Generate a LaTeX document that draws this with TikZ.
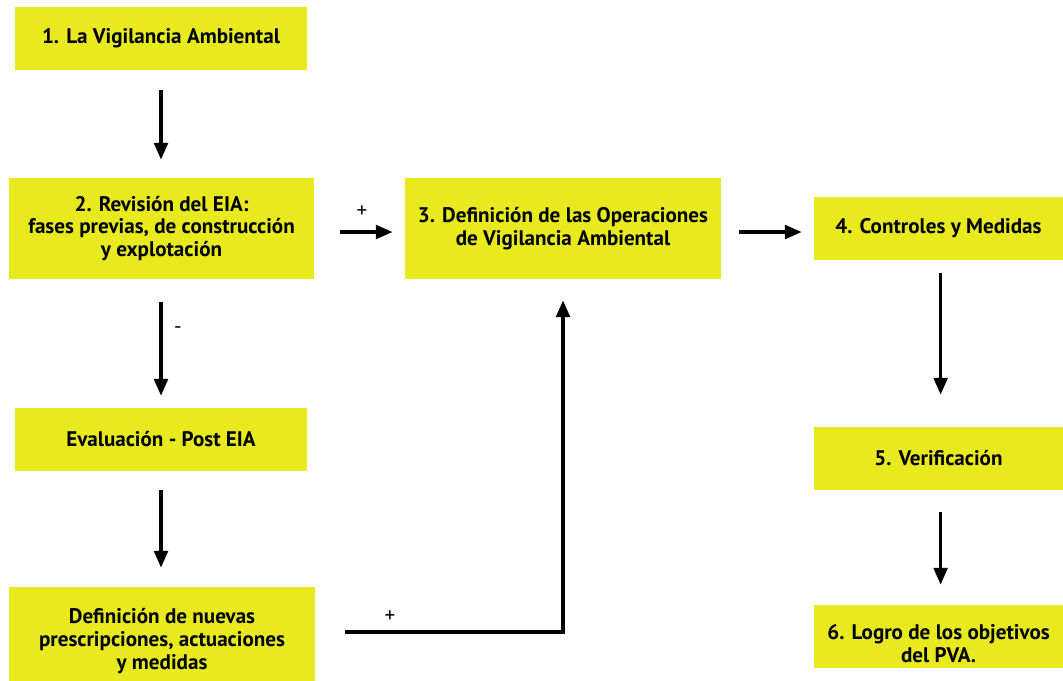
\documentclass[tikz,border=0pt]{standalone}
\usepackage{fontspec}
\setmainfont{PT Sans}
\usepackage{xcolor}
\usetikzlibrary{arrows.meta}
\definecolor{amarillo}{RGB}{232,234,30}

\begin{document}
\begin{tikzpicture}
[x=0.025cm,y=-0.025cm,
caja/.style={rectangle,fill=amarillo,inner sep=0pt,align=center,font=\bfseries\fontsize{15}{16.2}\selectfont},
flecha/.style={draw=black,line width=2.4pt,-{Triangle[length=0.42cm,width=0.34cm]}},
signo/.style={font=\fontsize{15}{16}\selectfont}]

\useasboundingbox (0,0) rectangle (1063,680);

\node at (161,38.5)  [caja,minimum width=7.3cm,minimum height=1.575cm] (vig)  {1. La Vigilancia Ambiental};
\node at (161.5,228.5) [caja,minimum width=7.625cm,minimum height=2.525cm] (rev) {2. Revisión del EIA:\\fases previas, de construcción\\y explotación};
\node at (563,228.5) [caja,minimum width=7.9cm,minimum height=2.525cm] (ops)  {3. Definición de las Operaciones\\de Vigilancia Ambiental};
\node at (938.5,228.5) [caja,minimum width=6.225cm,minimum height=1.575cm] (ctrl) {4. Controles y Medidas};
\node at (938.5,458.5) [caja,minimum width=6.225cm,minimum height=1.575cm] (veri) {5. Verificación};
\node at (938.5,636.5) [caja,minimum width=6.225cm,minimum height=1.575cm] (logro) {\rule{0pt}{0.75cm}6. Logro de los objetivos\\del PVA.};
\node at (161,439.5) [caja,minimum width=7.3cm,minimum height=1.575cm] (eval) {Evaluación - Post EIA};
\node at (162,641) [caja,minimum width=7.65cm,minimum height=2.7cm] (nuevas) {Definición de nuevas\\prescripciones, actuaciones\\y medidas};

\draw [flecha,shorten <=0.5cm,shorten >=0.45cm] (vig.south) to (vig.south |- rev.north);
\draw [flecha,shorten <=0.575cm,shorten >=0.3cm] (rev.south -| vig.south) to (eval.north);
\draw [flecha,shorten <=0.475cm,shorten >=0.475cm] (eval.south) to (eval.south |- nuevas.north);
\draw [flecha,shorten <=0.65cm,shorten >=0.3cm] ([yshift=-2.5pt]rev.east) to ([yshift=-2.5pt]ops.west);
\draw [flecha,shorten <=0.45cm,shorten >=0.3cm] ([yshift=-2.5pt]ops.east) to ([yshift=-2.5pt]ctrl.west);
\draw [flecha,shorten <=0.325cm,shorten >=0.8cm] ([xshift=1.5pt]ctrl.south) to ([xshift=1.5pt]veri.north);
\draw [flecha,shorten <=0.55cm,shorten >=0.5cm] ([xshift=1.5pt]veri.south) to ([xshift=1.5pt]logro.north);
\draw [flecha] ([xshift=0.75cm,yshift=0.225cm]nuevas.east) -| ([yshift=-0.525cm]ops.south);

\node at (178,330) [signo] (menos) {-};
\node at (362,212) [signo] (mas1)  {+};
\node at (390,617) [signo] (mas2)  {+};
\end{tikzpicture}
\end{document}
